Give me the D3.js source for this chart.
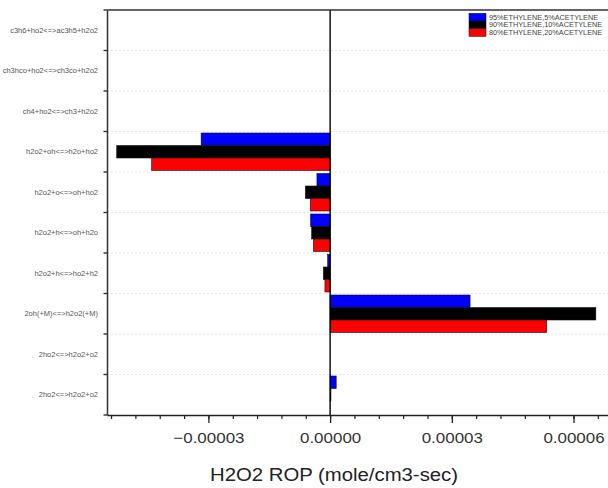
<!DOCTYPE html>
<html>
<head>
<meta charset="utf-8">
<script src="https://cdn.jsdelivr.net/npm/d3@7"></script>
<style>
  html, body { margin: 0; padding: 0; background: #fff; }
  svg { display: block; font-family: "Liberation Sans", Arial, sans-serif; }
</style>
</head>
<body>
<svg id="chart" width="608" height="488"></svg>
<script>
const categories = [
  "c3h6+ho2<=>ac3h5+h2o2",
  "ch3hco+ho2<=>ch3co+h2o2",
  "ch4+ho2<=>ch3+h2o2",
  "h2o2+oh<=>h2o+ho2",
  "h2o2+o<=>oh+ho2",
  "h2o2+h<=>oh+h2o",
  "h2o2+h<=>ho2+h2",
  "2oh(+M)<=>h2o2(+M)",
  "2ho2<=>h2o2+o2",
  "2ho2<=>h2o2+o2"
];
const seriesNames = ["95%ETHYLENE,5%ACETYLENE", "90%ETHYLENE,10%ACETYLENE", "80%ETHYLENE,20%ACETYLENE"];
const seriesColors = ["#0000ff", "#000000", "#ff0000"];
const eth95 = [0, 0, 0, -3.18e-5, -3.25e-6, -4.8e-6, -0.6e-6, 3.45e-5, 0, 1.5e-6];
const eth90 = [0, 0, 0, -5.26e-5, -6.1e-6, -4.55e-6, -1.67e-6, 6.55e-5, 0, 0.2e-6];
const eth80 = [0, 0, 0, -4.40e-5, -4.87e-6, -4.13e-6, -1.28e-6, 5.34e-5, 0, 0];
const majorTicks = [-0.00003, 0, 0.00003, 0.00006];
const xTitle = "H2O2 ROP (mole/cm3-sec)";

const series = [eth95, eth90, eth80];
const svg = d3.select("#chart");
const pLeft = 107, pRight = 608, pTop = 10, pBottom = 415;

const x = d3.scaleLinear().domain([-5.5e-5, 6.85e-5]).range([pLeft, pRight]);
const y = d3.scaleBand().domain(d3.range(categories.length)).range([pTop, pBottom]).padding(0);
const ySub = d3.scaleBand().domain(d3.range(series.length)).range([0, y.bandwidth()]).paddingInner(0).paddingOuter(0.12);

// grid lines at band boundaries
const bounds = d3.range(1, categories.length).map(i => y(i));
svg.append("g").selectAll("line").data(bounds).join("line")
  .attr("x1", pLeft).attr("x2", pRight)
  .attr("y1", d => d).attr("y2", d => d)
  .attr("stroke", "#e4e4e4").attr("stroke-width", 1).attr("stroke-dasharray", "2,2");

// bars
const barData = [];
series.forEach((s, si) => s.forEach((v, ci) => { if (v !== 0) barData.push({si, ci, v}); }));
svg.append("g").selectAll("rect").data(barData).join("rect")
  .attr("x", d => x(Math.min(0, d.v)))
  .attr("width", d => Math.abs(x(d.v) - x(0)))
  .attr("y", d => y(d.ci) + ySub(d.si))
  .attr("height", ySub.bandwidth())
  .attr("fill", d => seriesColors[d.si])
  .attr("stroke", "#111").attr("stroke-width", 0.6);

// zero line
svg.append("line").attr("x1", x(0)).attr("x2", x(0)).attr("y1", pTop).attr("y2", pBottom)
  .attr("stroke", "#000").attr("stroke-width", 1.4);

// top frame
svg.append("line").attr("x1", pLeft).attr("x2", pRight).attr("y1", pTop).attr("y2", pTop)
  .attr("stroke", "#333").attr("stroke-width", 1.5);

// bottom axis: minor ticks
const minorVals = d3.range(-9, 12).map(i => i * 6e-6);
const gMinor = svg.append("g").attr("transform", `translate(0,${pBottom})`)
  .call(d3.axisBottom(x).tickValues(minorVals).tickSize(4).tickFormat(""));
gMinor.select(".domain").remove();
gMinor.selectAll("line").attr("stroke", "#222").attr("stroke-width", 1.2);

const gx = svg.append("g").attr("transform", `translate(0,${pBottom})`)
  .call(d3.axisBottom(x).tickValues(majorTicks).tickSize(8).tickSizeOuter(0).tickFormat(d3.format(".5f")));
gx.select(".domain").attr("stroke", "#222").attr("stroke-width", 1.5);
gx.selectAll("line").attr("stroke", "#222").attr("stroke-width", 1.3);
gx.selectAll("text")
  .attr("y", 28).attr("dy", 0)
  .attr("transform", "scale(1.13,1)")
  .attr("font-size", 15).attr("fill", "#333")
  .attr("font-family", "'Liberation Sans', Arial, sans-serif");

// left axis
const gy = svg.append("g").attr("transform", `translate(${pLeft},0)`)
  .call(d3.axisLeft(y).tickValues([]).tickSizeOuter(0));
gy.select(".domain").attr("stroke", "#333").attr("stroke-width", 1.5);
const yTickPos = d3.range(0, categories.length + 1).map(i => pTop + i * y.step());
svg.append("g").selectAll("line").data(yTickPos).join("line")
  .attr("x1", pLeft - 3.5).attr("x2", pLeft).attr("y1", d => d).attr("y2", d => d)
  .attr("stroke", "#333").attr("stroke-width", 1.4);

svg.append("g").selectAll("text").data(categories).join("text")
  .attr("x", 98)
  .attr("y", (d, i) => y(i) + y.bandwidth() / 2 + 2.6)
  .attr("text-anchor", "end")
  .attr("font-size", 7.5).attr("fill", "#555")
  .text(d => d);

// x title
svg.append("text")
  .attr("transform", "translate(334,481) scale(1.13,1)")
  .attr("text-anchor", "middle")
  .attr("font-size", 18).attr("fill", "#222")
  .text(xTitle);

// legend
const lg = svg.append("g");
seriesNames.forEach((name, i) => {
  const yy = 13.3 + i * 7.7;
  lg.append("rect").attr("x", 469).attr("y", yy).attr("width", 17).attr("height", 7.7)
    .attr("fill", seriesColors[i]).attr("stroke", "#111").attr("stroke-width", 0.5);
  lg.append("text").attr("x", 489).attr("y", yy + 6.4)
    .attr("font-size", 7.3).attr("fill", "#444").text(name);
});
</script>
</body>
</html>
